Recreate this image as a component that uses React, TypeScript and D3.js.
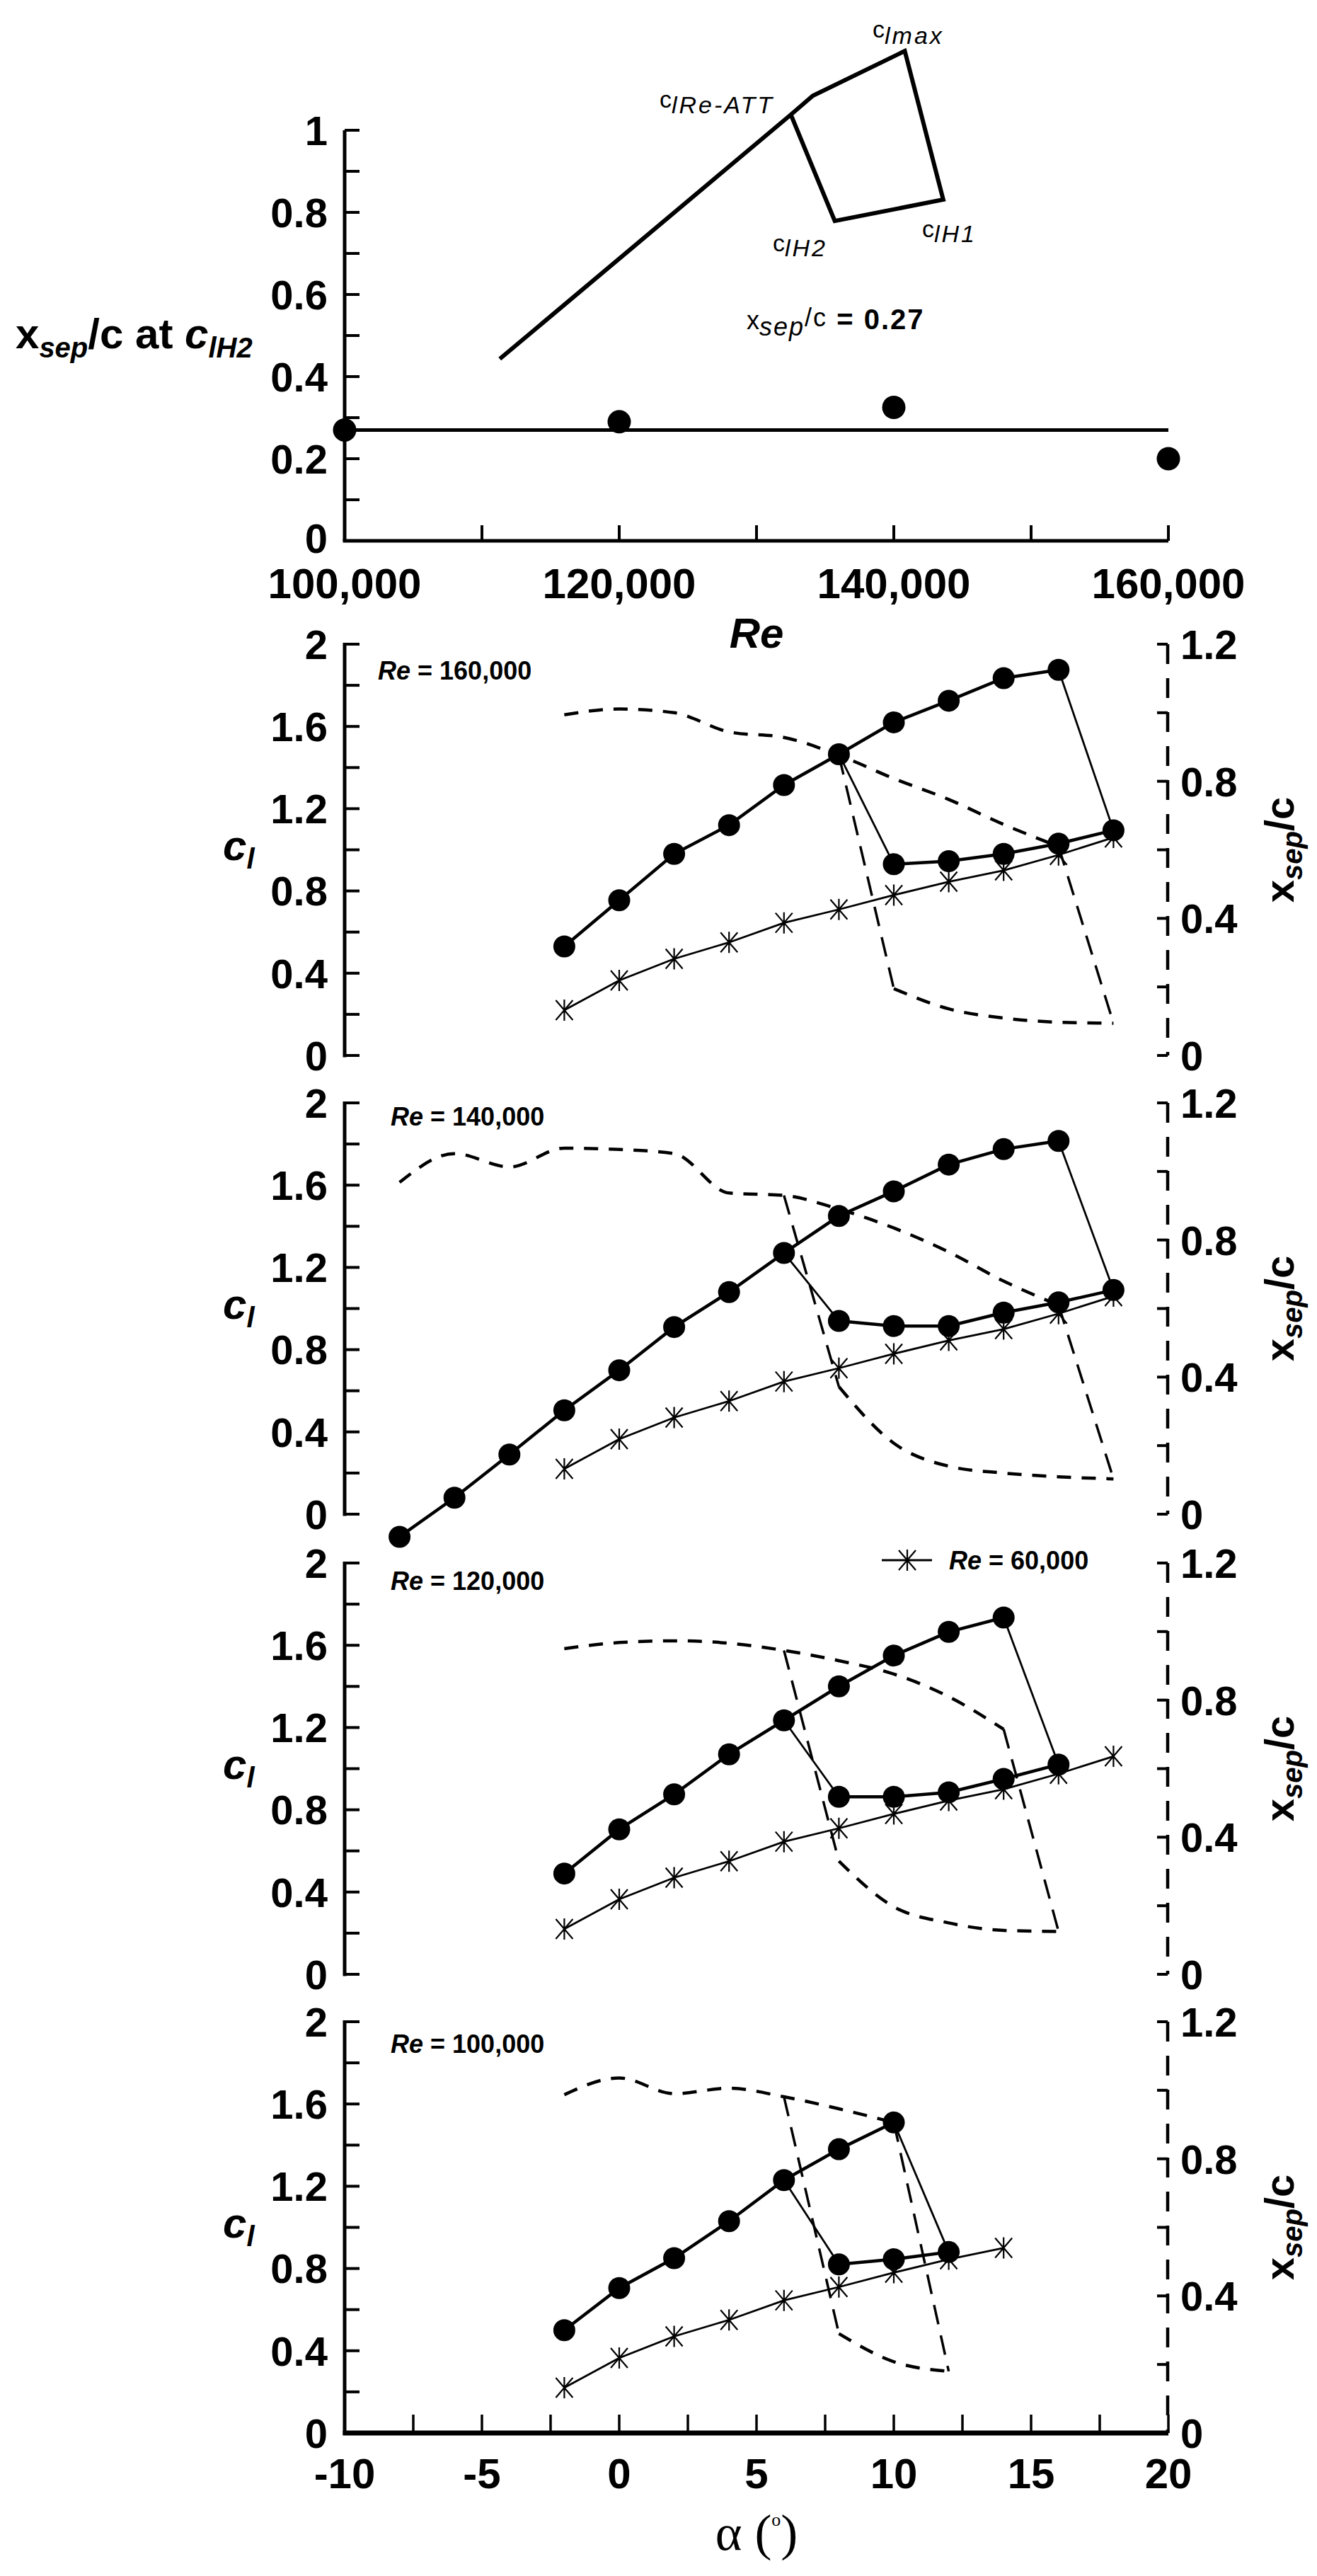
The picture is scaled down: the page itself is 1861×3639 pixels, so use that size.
import React from 'react';
import * as d3 from 'd3';

// ---------------- Top panel data ----------------
const reCases = [100000, 120000, 140000, 160000];
const xsepAtClH2 = [0.27, 0.29, 0.325, 0.2];
const xsepMeanValue = 0.27;
const schematicRe = [111300, 132500, 134100, 140800, 143600, 135700, 132500];
const schematicVal = [0.443, 1.038, 1.084, 1.193, 0.831, 0.779, 1.038];
const reTickValues = [100000, 110000, 120000, 130000, 140000, 150000, 160000];
const reLabelValues = [100000, 120000, 140000, 160000];
const reLabelTexts = ['100,000', '120,000', '140,000', '160,000'];
const topYTickValues = [0, 0.1, 0.2, 0.3, 0.4, 0.5, 0.6, 0.7, 0.8, 0.9, 1];
const topYLabelValues = [0, 0.2, 0.4, 0.6, 0.8, 1];
const topYLabelTexts = ['0', '0.2', '0.4', '0.6', '0.8', '1'];

// ---------------- Panel axes ----------------
const clTickValues = [0, 0.2, 0.4, 0.6, 0.8, 1, 1.2, 1.4, 1.6, 1.8, 2];
const clLabelValues = [0, 0.4, 0.8, 1.2, 1.6, 2];
const clLabelTexts = ['0', '0.4', '0.8', '1.2', '1.6', '2'];
const xsepTickValues = [0, 0.2, 0.4, 0.6, 0.8, 1, 1.2];
const xsepLabelValues = [0, 0.4, 0.8, 1.2];
const xsepLabelTexts = ['0', '0.4', '0.8', '1.2'];
const alphaTickValues = [-10, -7.5, -5, -2.5, 0, 2.5, 5, 7.5, 10, 12.5, 15, 17.5, 20];
const alphaLabelValues = [-10, -5, 0, 5, 10, 15, 20];
const alphaLabelTexts = ['-10', '-5', '0', '5', '10', '15', '20'];

// ---------------- Re = 60,000 reference (stars) ----------------
const refAlpha = [-2, 0, 2, 4, 6, 8, 10, 12, 14, 16, 18];
const refCl = [0.22, 0.365, 0.47, 0.55, 0.645, 0.71, 0.78, 0.845, 0.9, 0.975, 1.06];

// ---------------- Re = 160,000 ----------------
const re160UpAlpha = [-2, 0, 2, 4, 6, 8, 10, 12, 14, 16];
const re160UpCl = [0.53, 0.755, 0.98, 1.12, 1.315, 1.465, 1.62, 1.725, 1.835, 1.875];
const re160LoAlpha = [10, 12, 14, 16, 18];
const re160LoCl = [0.93, 0.945, 0.98, 1.03, 1.095];
const re160XsUpAlpha = [-2, 0, 2, 4, 6, 8, 10, 12, 14, 16];
const re160XsUp = [0.994, 1.011, 1.0, 0.944, 0.928, 0.876, 0.808, 0.747, 0.674, 0.61];
const re160XsLoAlpha = [10, 12, 14, 16, 18];
const re160XsLo = [0.195, 0.136, 0.109, 0.097, 0.094];

// ---------------- Re = 140,000 ----------------
const re140UpAlpha = [-8, -6, -4, -2, 0, 2, 4, 6, 8, 10, 12, 14, 16];
const re140UpCl = [-0.11, 0.08, 0.29, 0.505, 0.7, 0.91, 1.08, 1.27, 1.45, 1.57, 1.7, 1.775, 1.815];
const re140LoAlpha = [8, 10, 12, 14, 16, 18];
const re140LoCl = [0.94, 0.915, 0.915, 0.98, 1.03, 1.09];
const re140XsUpAlpha = [-8, -6, -4, -2, 0, 2, 4, 6, 8, 10, 12, 14, 16];
const re140XsUp = [0.968, 1.052, 1.013, 1.068, 1.064, 1.052, 0.937, 0.93, 0.89, 0.835, 0.765, 0.68, 0.61];
const re140XsLoAlpha = [8, 10, 12, 14, 16, 18];
const re140XsLo = [0.372, 0.207, 0.14, 0.12, 0.109, 0.103];

// ---------------- Re = 120,000 ----------------
const re120UpAlpha = [-2, 0, 2, 4, 6, 8, 10, 12, 14];
const re120UpCl = [0.49, 0.705, 0.875, 1.07, 1.235, 1.4, 1.55, 1.665, 1.735];
const re120LoAlpha = [8, 10, 12, 14, 16];
const re120LoCl = [0.863, 0.863, 0.885, 0.95, 1.02];
const re120XsUpAlpha = [-2, 0, 2, 4, 6, 8, 10, 12, 14];
const re120XsUp = [0.95, 0.968, 0.973, 0.966, 0.945, 0.915, 0.876, 0.81, 0.715];
const re120XsLoAlpha = [8, 10, 12, 14, 16];
const re120XsLo = [0.33, 0.197, 0.15, 0.128, 0.125];

// ---------------- Re = 100,000 ----------------
const re100UpAlpha = [-2, 0, 2, 4, 6, 8, 10];
const re100UpCl = [0.5, 0.705, 0.85, 1.03, 1.23, 1.38, 1.51];
const re100LoAlpha = [8, 10, 12];
const re100LoCl = [0.82, 0.845, 0.88];
const re100XsUpAlpha = [-2, 0, 2, 4, 6, 8, 10];
const re100XsUp = [0.987, 1.036, 0.99, 1.006, 0.981, 0.946, 0.906];
const re100XsLoAlpha = [8, 10, 12];
const re100XsLo = [0.29, 0.208, 0.18];

const panelLabels = ['160,000', '140,000', '120,000', '100,000'];
const legendLabel = '60,000';

// ---------------- layout ----------------
const W = 1861;
const H = 3639;
const XL = 487;
const XR = 1651;
const PANEL_TOPS = [910, 1558, 2208, 2856];
const PANEL_H = 581;
const FONT = "'Liberation Sans', Arial, Helvetica, sans-serif";
const SERIF = "'Liberation Serif', 'Times New Roman', serif";

type Pt = [number, number];
const zip = (a: number[], b: number[]): Pt[] => a.map((v, i) => [v, b[i]] as Pt);

const panels = [
  { re: panelLabels[0], up: zip(re160UpAlpha, re160UpCl), lo: zip(re160LoAlpha, re160LoCl), xu: zip(re160XsUpAlpha, re160XsUp), xl: zip(re160XsLoAlpha, re160XsLo), nStar: 11, labelX: 534, labelDy: 50 },
  { re: panelLabels[1], up: zip(re140UpAlpha, re140UpCl), lo: zip(re140LoAlpha, re140LoCl), xu: zip(re140XsUpAlpha, re140XsUp), xl: zip(re140XsLoAlpha, re140XsLo), nStar: 11, labelX: 552, labelDy: 32 },
  { re: panelLabels[2], up: zip(re120UpAlpha, re120UpCl), lo: zip(re120LoAlpha, re120LoCl), xu: zip(re120XsUpAlpha, re120XsUp), xl: zip(re120XsLoAlpha, re120XsLo), nStar: 11, labelX: 552, labelDy: 38 },
  { re: panelLabels[3], up: zip(re100UpAlpha, re100UpCl), lo: zip(re100LoAlpha, re100LoCl), xu: zip(re100XsUpAlpha, re100XsUp), xl: zip(re100XsLoAlpha, re100XsLo), nStar: 9, labelX: 552, labelDy: 44 },
];

const xAlpha = d3.scaleLinear().domain([-10, 20]).range([XL, XR]);

const STAR = 'M0,-15L0,15M-12,-14L12,14M12,-14L-12,14';

function Star({ x, y }: { x: number; y: number }) {
  return <path d={STAR} transform={`translate(${x},${y})`} stroke="#000" strokeWidth={2.2} fill="none" />;
}

function TopPanel() {
  const x = d3.scaleLinear().domain([100000, 160000]).range([XL, XR]);
  const y = d3.scaleLinear().domain([0, 1]).range([764, 184]);
  const line = d3.line<Pt>().x((d) => x(d[0])).y((d) => y(d[1]));
  const schem = zip(schematicRe, schematicVal);
  return (
    <g>
      {/* axes */}
      <line x1={XL} x2={XL} y1={y(0)} y2={y(1)} stroke="#000" strokeWidth={5} />
      <line x1={XL - 2.5} x2={XR} y1={y(0)} y2={y(0)} stroke="#000" strokeWidth={5} />
      {topYTickValues.map((v) => (
        <line key={v} x1={XL} x2={XL + 21} y1={y(v)} y2={y(v)} stroke="#000" strokeWidth={4} />
      ))}
      {reTickValues.map((v) => (
        <line key={v} x1={x(v)} x2={x(v)} y1={y(0)} y2={y(0) - 22} stroke="#000" strokeWidth={4} />
      ))}
      {topYLabelValues.map((v, i) => (
        <text key={v} x={463} y={y(v)} dy={v === 0 ? '0.3em' : '0.36em'} textAnchor="end" fontSize={58} fontWeight="bold" fontFamily={FONT}>
          {topYLabelTexts[i]}
        </text>
      ))}
      {reLabelValues.map((v, i) => (
        <text key={v} x={x(v)} y={845} textAnchor="middle" fontSize={60} fontWeight="bold" fontFamily={FONT}>
          {reLabelTexts[i]}
        </text>
      ))}
      <text x={(XL + XR) / 2} y={915} textAnchor="middle" fontSize={60} fontWeight="bold" fontStyle="italic" fontFamily={FONT}>
        Re
      </text>
      <text x={22} y={492} fontSize={60} fontWeight="bold" fontFamily={FONT}>
        x<tspan fontSize={40} fontStyle="italic" dy={13}>sep</tspan>
        <tspan dy={-13}>/c at </tspan>
        <tspan fontStyle="italic">c</tspan>
        <tspan fontSize={40} fontStyle="italic" dy={13}>lH2</tspan>
      </text>
      {/* mean line */}
      <line x1={x(100000)} x2={x(160000)} y1={y(xsepMeanValue)} y2={y(xsepMeanValue)} stroke="#000" strokeWidth={5} />
      {reCases.map((r, i) => (
        <circle key={r} cx={x(r)} cy={y(xsepAtClH2[i])} r={16.5} fill="#000" />
      ))}
      {/* schematic */}
      <path d={line(schem) || ''} fill="none" stroke="#000" strokeWidth={6} strokeLinejoin="miter" />
      <g fontFamily={FONT} fontSize={34}>
        <text x={932} y={152}>
          c<tspan fontStyle="italic" dy={8} letterSpacing={3}>lRe-ATT</tspan>
        </text>
        <text x={1233} y={53}>
          c<tspan fontStyle="italic" dy={9} letterSpacing={3}>lmax</tspan>
        </text>
        <text x={1092} y={355}>
          c<tspan fontStyle="italic" dy={7} letterSpacing={3}>lH2</tspan>
        </text>
        <text x={1303} y={335}>
          c<tspan fontStyle="italic" dy={7} letterSpacing={3}>lH1</tspan>
        </text>
        <text x={1055} y={465} fontSize={36}>
          x<tspan fontStyle="italic" dy={9} letterSpacing={2}>sep</tspan>
          <tspan dy={-13} letterSpacing={2}>/c</tspan>
          <tspan dy={4} fontWeight="bold" fontSize={40} letterSpacing={2}> = 0.27</tspan>
        </text>
      </g>
    </g>
  );
}

function Panel({ cfg, top, bottomAxis, legend }: { cfg: any; top: number; bottomAxis: boolean; legend: boolean }) {
  const yCl = d3.scaleLinear().domain([0, 2]).range([top + PANEL_H, top]);
  const yXs = d3.scaleLinear().domain([0, 1.2]).range([top + PANEL_H, top]);
  const lineCl = d3.line<Pt>().x((d) => xAlpha(d[0])).y((d) => yCl(d[1]));
  const lineXsCurve = d3.line<Pt>().x((d) => xAlpha(d[0])).y((d) => yXs(d[1])).curve(d3.curveMonotoneX);
  const lineXs = d3.line<Pt>().x((d) => xAlpha(d[0])).y((d) => yXs(d[1]));
  const up: Pt[] = cfg.up;
  const lo: Pt[] = cfg.lo;
  const xu: Pt[] = cfg.xu;
  const xl: Pt[] = cfg.xl;
  const upLast = up[up.length - 1];
  const loLast = lo[lo.length - 1];
  const upJoin = up.find((d) => d[0] === lo[0][0] - 2) as Pt;
  const xuLast = xu[xu.length - 1];
  const xlLast = xl[xl.length - 1];
  const xuJoin = xu.find((d) => d[0] === xl[0][0] - 2) as Pt;
  const stars = zip(refAlpha, refCl).slice(0, cfg.nStar);
  const mid = top + PANEL_H / 2;
  const bottom = top + PANEL_H;
  const xRightAxis = XR - 1;
  return (
    <g>
      {/* left axis */}
      <line x1={XL} x2={XL} y1={bottom + 2.5} y2={top - 2} stroke="#000" strokeWidth={5} />
      {clTickValues.map((v) => (
        <line key={v} x1={XL} x2={XL + 21} y1={yCl(v)} y2={yCl(v)} stroke="#000" strokeWidth={4} />
      ))}
      {clLabelValues.map((v, i) => (
        <text key={v} x={463} y={yCl(v)} dy="0.36em" textAnchor="end" fontSize={58} fontWeight="bold" fontFamily={FONT}>
          {clLabelTexts[i]}
        </text>
      ))}
      {/* right axis (dashed) */}
      <line x1={xRightAxis} x2={xRightAxis} y1={top} y2={bottom} stroke="#000" strokeWidth={4.5} strokeDasharray="28 20" />
      {xsepTickValues.map((v) => (
        <line key={v} x1={xRightAxis - 15} x2={xRightAxis} y1={yXs(v)} y2={yXs(v)} stroke="#000" strokeWidth={4} />
      ))}
      {xsepLabelValues.map((v, i) => (
        <text key={v} x={1668} y={yXs(v)} dy="0.36em" textAnchor="start" fontSize={58} fontWeight="bold" fontFamily={FONT}>
          {xsepLabelTexts[i]}
        </text>
      ))}
      {/* axis titles */}
      <text x={315} y={mid + 14} fontSize={60} fontWeight="bold" fontStyle="italic" fontFamily={FONT}>
        c<tspan fontSize={40} dy={12}>l</tspan>
      </text>
      <text transform={`translate(1828,${mid}) rotate(-90)`} textAnchor="middle" fontSize={58} fontWeight="bold" fontFamily={FONT}>
        x<tspan fontSize={40} fontStyle="italic" dy={12}>sep</tspan>
        <tspan dy={-12}>/c</tspan>
      </text>
      <text x={cfg.labelX} y={top + cfg.labelDy} fontSize={36} fontWeight="bold" fontFamily={FONT}>
        <tspan fontStyle="italic">Re</tspan> = {cfg.re}
      </text>
      {/* xsep dashed curves */}
      <g fill="none" stroke="#000">
        <path d={lineXsCurve(xu) || ''} strokeWidth={4.5} strokeDasharray="20 15" />
        <path d={lineXsCurve(xl) || ''} strokeWidth={4.5} strokeDasharray="20 15" />
        <path d={lineXs([xuLast, xlLast]) || ''} strokeWidth={3.5} strokeDasharray="28 16" />
        <path d={lineXs([xuJoin, xl[0]]) || ''} strokeWidth={3.5} strokeDasharray="28 16" />
      </g>
      {/* Re = 60,000 reference */}
      <path d={lineCl(stars) || ''} fill="none" stroke="#000" strokeWidth={2.8} />
      {stars.map((d) => (
        <Star key={d[0]} x={xAlpha(d[0])} y={yCl(d[1])} />
      ))}
      {/* cl hysteresis */}
      <g fill="none" stroke="#000">
        <path d={lineCl(up) || ''} strokeWidth={4.5} />
        <path d={lineCl(lo) || ''} strokeWidth={4.5} />
        <path d={lineCl([upLast, loLast]) || ''} strokeWidth={2.8} />
        <path d={lineCl([upJoin, lo[0]]) || ''} strokeWidth={2.8} />
      </g>
      {up.concat(lo).map((d, i) => (
        <circle key={i} cx={xAlpha(d[0])} cy={yCl(d[1])} r={15.5} fill="#000" />
      ))}
      {legend && (
        <g>
          <line x1={1246} x2={1317} y1={2204} y2={2204} stroke="#000" strokeWidth={2.8} />
          <Star x={1282} y={2204} />
          <text x={1341} y={2217} fontSize={36} fontWeight="bold" fontFamily={FONT}>
            <tspan fontStyle="italic">Re</tspan> = {legendLabel}
          </text>
        </g>
      )}
      {bottomAxis && (
        <g>
          <line x1={XL - 2.5} x2={XR} y1={bottom} y2={bottom} stroke="#000" strokeWidth={7} />
          {alphaTickValues.map((v) => (
            <line key={v} x1={xAlpha(v)} x2={xAlpha(v)} y1={bottom} y2={bottom - 26} stroke="#000" strokeWidth={3.5} />
          ))}
          {alphaLabelValues.map((v, i) => (
            <text key={v} x={xAlpha(v)} y={3515} textAnchor="middle" fontSize={60} fontWeight="bold" fontFamily={FONT}>
              {alphaLabelTexts[i]}
            </text>
          ))}
          <text x={(XL + XR) / 2} y={3602} textAnchor="middle" fontSize={72} fontFamily={SERIF}>
            α (<tspan fontSize={26} dy={-34}>o</tspan>
            <tspan dy={34}>)</tspan>
          </text>
        </g>
      )}
    </g>
  );
}

export default function App() {
  return (
    <svg
      width={W}
      height={H}
      viewBox={`0 0 ${W} ${H}`}
      style={{ position: 'absolute', left: 0, top: 0, background: '#fff' }}
    >
      <rect x={0} y={0} width={W} height={H} fill="#fff" />
      <TopPanel />
      {panels.map((p, i) => (
        <Panel key={i} cfg={p} top={PANEL_TOPS[i]} bottomAxis={i === 3} legend={i === 2} />
      ))}
    </svg>
  );
}
